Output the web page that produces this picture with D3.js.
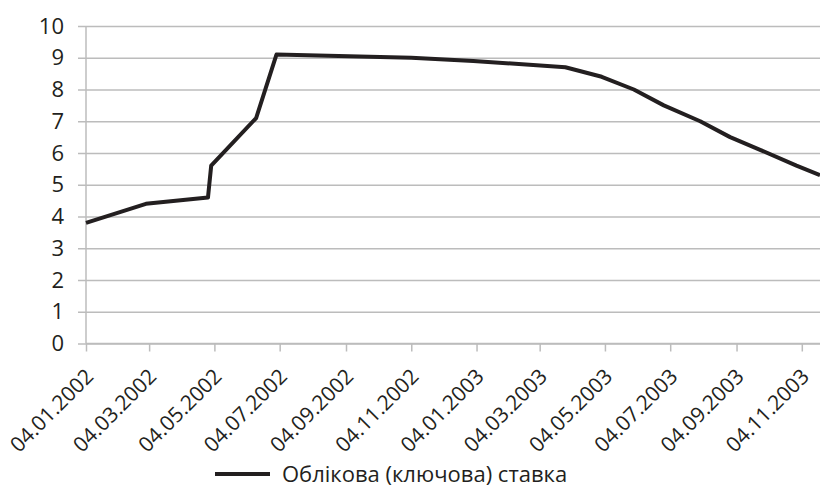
<!DOCTYPE html>
<html>
<head>
<meta charset="utf-8">
<script src="https://cdn.jsdelivr.net/npm/d3@7"></script>
<style>
  html, body { margin: 0; padding: 0; background: #fff; }
  svg { display: block; }
  svg text { font-family: "Open Sans", "Noto Sans", sans-serif; }
</style>
</head>
<body>
<svg id="chart" width="820" height="495"></svg>
<script>
// Облікова (ключова) ставка, 2002–2003
const dates = [
  "2002-01-04", "2002-03-01", "2002-04-28", "2002-05-01", "2002-06-12",
  "2002-07-01", "2002-11-04", "2003-01-01", "2003-03-28", "2003-05-01",
  "2003-05-31", "2003-06-28", "2003-08-01", "2003-08-29", "2003-09-26",
  "2003-10-30", "2003-11-21"
];
const rates = [
  3.8, 4.4, 4.6, 5.6, 7.1,
  9.1, 9.0, 8.9, 8.7, 8.4,
  8.0, 7.5, 7.0, 6.5, 6.1,
  5.6, 5.3
];
const tickDates = [
  "2002-01-04", "2002-03-04", "2002-05-04", "2002-07-04", "2002-09-04", "2002-11-04",
  "2003-01-04", "2003-03-04", "2003-05-04", "2003-07-04", "2003-09-04", "2003-11-04"
];
const yTicks = [0, 1, 2, 3, 4, 5, 6, 7, 8, 9, 10];
const seriesName = "Облікова (ключова) ставка";

const parse = d3.utcParse("%Y-%m-%d");
const fmt = d3.utcFormat("%d.%m.%Y");
const data = dates.map((d, i) => ({ date: parse(d), value: rates[i] }));

const margin = { left: 86, right: 0, top: 26, bottom: 151.5 };
const width = 820, height = 495;
const svg = d3.select("#chart");

const x = d3.scaleUtc()
  .domain([parse(dates[0]), parse(dates[dates.length - 1])])
  .range([margin.left, width - margin.right]);
const y = d3.scaleLinear()
  .domain([0, 10])
  .range([height - margin.bottom, margin.top]);

const gridColor = "#bcbcbc";
const textColor = "#231f20";
const fontFamily = '"Open Sans", "Noto Sans", sans-serif';
const plotW = width - margin.right - margin.left;

// horizontal gridlines, with short ticks left of the axis
const yAxis = d3.axisLeft(y)
  .tickValues(yTicks)
  .tickSize(8)
  .tickPadding(14)
  .tickFormat(d3.format("d"));
const gy = svg.append("g")
  .attr("transform", `translate(${margin.left},0)`)
  .attr("font-family", fontFamily)
  .call(yAxis);
gy.select(".domain").remove();
gy.selectAll(".tick line")
  .attr("stroke", gridColor).attr("stroke-width", 1.5)
  .attr("x1", plotW).attr("x2", -8);
gy.selectAll(".tick text")
  .attr("x", -22)
  .attr("fill", textColor)
  .style("font-size", "22px");

// vertical axis line
svg.append("line")
  .attr("x1", margin.left).attr("x2", margin.left)
  .attr("y1", y(10)).attr("y2", y(0))
  .attr("stroke", gridColor).attr("stroke-width", 1.5);

// x axis
const xAxis = d3.axisBottom(x)
  .tickValues(tickDates.map(parse))
  .tickSize(8)
  .tickFormat(fmt);
const gx = svg.append("g")
  .attr("transform", `translate(0,${y(0)})`)
  .attr("font-family", fontFamily)
  .call(xAxis);
gx.select(".domain").attr("stroke", gridColor).attr("stroke-width", 1.5)
  .attr("d", `M${margin.left},0H${width}`);
gx.selectAll(".tick line").attr("stroke", gridColor).attr("stroke-width", 1.5);
gx.selectAll(".tick text")
  .attr("fill", textColor)
  .style("font-size", "21px")
  .attr("text-anchor", "end")
  .attr("dy", "0.35em")
  .attr("y", 0)
  .attr("transform", "translate(3,29) rotate(-45)");

// rate line
const line = d3.line()
  .x(d => x(d.date))
  .y(d => y(d.value));
svg.append("path")
  .datum(data)
  .attr("fill", "none")
  .attr("stroke", textColor)
  .attr("stroke-width", 4)
  .attr("stroke-linejoin", "round")
  .attr("d", line);

// legend
const lg = svg.append("g").attr("transform", "translate(215,474)");
lg.append("line")
  .attr("x1", 0).attr("x2", 55)
  .attr("stroke", textColor).attr("stroke-width", 4);
lg.append("text")
  .attr("x", 67).attr("dy", "0.35em")
  .attr("fill", textColor)
  .attr("font-family", fontFamily)
  .style("font-size", "22px")
  .text(seriesName);
</script>
</body>
</html>
